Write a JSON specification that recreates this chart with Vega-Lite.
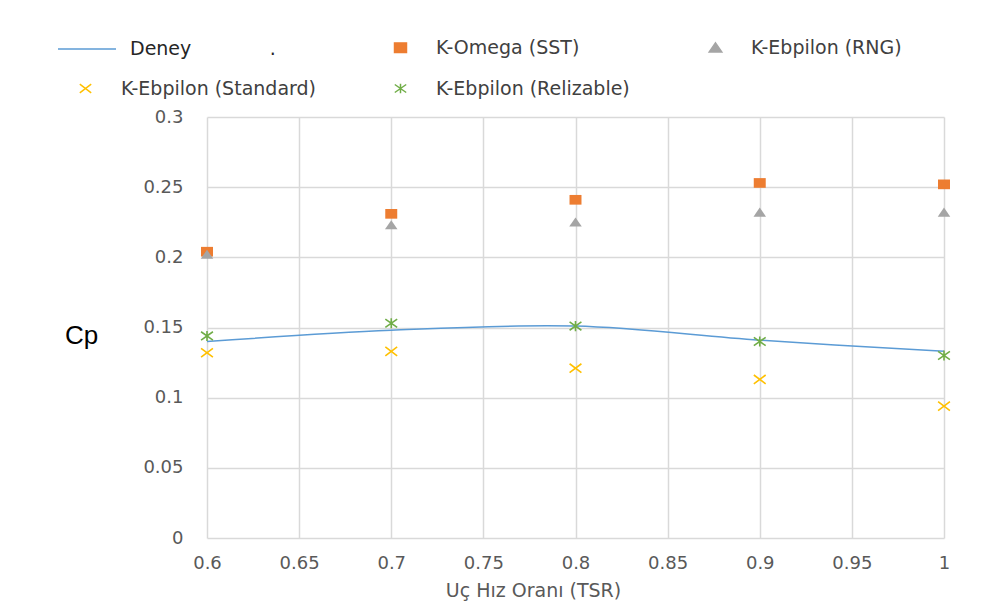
{
  "$schema": "https://vega.github.io/schema/vega-lite/v6.json",
  "width": 737,
  "height": 421,
  "autosize": {"type": "none"},
  "padding": {"left": 207, "top": 117, "right": 42, "bottom": 72},
  "background": "white",
  "config": {"view": {"stroke": null}, "font": "DejaVu Sans"},
  "data": {
    "values": [
      {"tsr": 0.6, "cp": 0.140, "series": "Deney"},
      {"tsr": 0.7, "cp": 0.148, "series": "Deney"},
      {"tsr": 0.8, "cp": 0.151, "series": "Deney"},
      {"tsr": 0.9, "cp": 0.141, "series": "Deney"},
      {"tsr": 1.0, "cp": 0.133, "series": "Deney"},
      {"tsr": 0.6, "cp": 0.204, "series": "K-Omega (SST)"},
      {"tsr": 0.7, "cp": 0.231, "series": "K-Omega (SST)"},
      {"tsr": 0.8, "cp": 0.241, "series": "K-Omega (SST)"},
      {"tsr": 0.9, "cp": 0.253, "series": "K-Omega (SST)"},
      {"tsr": 1.0, "cp": 0.252, "series": "K-Omega (SST)"},
      {"tsr": 0.6, "cp": 0.202, "series": "K-Ebpilon (RNG)"},
      {"tsr": 0.7, "cp": 0.223, "series": "K-Ebpilon (RNG)"},
      {"tsr": 0.8, "cp": 0.225, "series": "K-Ebpilon (RNG)"},
      {"tsr": 0.9, "cp": 0.232, "series": "K-Ebpilon (RNG)"},
      {"tsr": 1.0, "cp": 0.232, "series": "K-Ebpilon (RNG)"},
      {"tsr": 0.6, "cp": 0.132, "series": "K-Ebpilon (Standard)"},
      {"tsr": 0.7, "cp": 0.133, "series": "K-Ebpilon (Standard)"},
      {"tsr": 0.8, "cp": 0.121, "series": "K-Ebpilon (Standard)"},
      {"tsr": 0.9, "cp": 0.113, "series": "K-Ebpilon (Standard)"},
      {"tsr": 1.0, "cp": 0.094, "series": "K-Ebpilon (Standard)"},
      {"tsr": 0.6, "cp": 0.144, "series": "K-Ebpilon (Relizable)"},
      {"tsr": 0.7, "cp": 0.153, "series": "K-Ebpilon (Relizable)"},
      {"tsr": 0.8, "cp": 0.151, "series": "K-Ebpilon (Relizable)"},
      {"tsr": 0.9, "cp": 0.140, "series": "K-Ebpilon (Relizable)"},
      {"tsr": 1.0, "cp": 0.130, "series": "K-Ebpilon (Relizable)"}
    ]
  },
  "encoding": {
    "x": {
      "field": "tsr", "type": "quantitative",
      "scale": {"domain": [0.6, 1.0], "nice": false, "zero": false},
      "axis": {
        "values": [0.6, 0.65, 0.7, 0.75, 0.8, 0.85, 0.9, 0.95, 1.0],
        "format": "~g", "labelFlush": false,
        "labelFontSize": 18, "labelColor": "#595959", "labelPadding": 16,
        "ticks": false, "domain": false,
        "grid": true, "gridColor": "#D9D9D9", "gridWidth": 1.5,
        "title": "Uç Hız Oranı (TSR)",
        "titleFontSize": 19, "titleColor": "#595959", "titleFontWeight": "normal",
        "titleX": 326, "titleY": 52, "titleBaseline": "middle", "titleAlign": "center"
      }
    },
    "y": {
      "field": "cp", "type": "quantitative",
      "scale": {"domain": [0, 0.3], "nice": false},
      "axis": {
        "values": [0, 0.05, 0.1, 0.15, 0.2, 0.25, 0.3],
        "format": "~g", "labelFlush": false,
        "labelFontSize": 18, "labelColor": "#595959", "labelPadding": 24,
        "ticks": false, "domain": false,
        "grid": true, "gridColor": "#D9D9D9", "gridWidth": 1.5,
        "title": "Cp",
        "titleFont": "Liberation Sans",
        "titleFontSize": 26, "titleColor": "#000000", "titleFontWeight": "normal",
        "titleAngle": 0, "titleX": -126, "titleY": 218,
        "titleAlign": "center", "titleBaseline": "middle"
      }
    }
  },
  "layer": [
    {
      "transform": [{"filter": "datum.series === 'Deney'"}],
      "mark": {"type": "line", "interpolate": "catmull-rom", "strokeWidth": 1.5},
      "encoding": {
        "stroke": {
          "field": "series", "type": "nominal",
          "scale": {"domain": ["Deney"], "range": ["#5B9BD5"]},
          "legend": {
            "orient": "none", "legendX": -150, "legendY": -98,
            "title": null, "padding": 0, "labelLimit": 600,
            "symbolType": "stroke", "symbolSize": 3364, "symbolStrokeWidth": 1.5,
            "labelFontSize": 19, "labelColor": "#262626", "labelOffset": 13,
            "labelExpr": "'Deney\u00a0\u00a0\u00a0\u00a0\u00a0\u00a0\u00a0\u00a0\u00a0\u00a0\u00a0\u00a0\u00a0.'"
          }
        }
      }
    },
    {
      "transform": [{"filter": "datum.series === 'K-Omega (SST)' || datum.series === 'K-Ebpilon (RNG)'"}],
      "mark": {"type": "point", "filled": true, "opacity": 1, "size": 130},
      "encoding": {
        "color": {
          "field": "series", "type": "nominal",
          "scale": {
            "domain": [" ", "K-Omega (SST)", "K-Ebpilon (RNG)", "K-Ebpilon (Standard)", "K-Ebpilon (Relizable)"],
            "range": ["rgba(0,0,0,0)", "#ED7D31", "#A5A5A5", "#FFC000", "#70AD47"]
          },
          "legend": {
            "orient": "none", "direction": "horizontal", "legendX": -131, "legendY": -79,
            "title": null, "padding": 0, "columns": 3, "gridAlign": "all",
            "columnPadding": 75, "rowPadding": 21, "labelLimit": 600,
            "symbolSize": 130, "symbolStrokeWidth": 1.5,
            "labelFontSize": 19, "labelColor": "#404040", "labelOffset": 26,
            "encode": {
              "symbols": {
                "update": {
                  "fill": {"scale": "color", "field": "value"},
                  "stroke": {"scale": "color", "field": "value"},
                  "strokeWidth": {"value": 1.5},
                  "opacity": {"value": 1}
                }
              }
            }
          }
        },
        "shape": {
          "field": "series", "type": "nominal",
          "scale": {
            "domain": [" ", "K-Omega (SST)", "K-Ebpilon (RNG)", "K-Ebpilon (Standard)", "K-Ebpilon (Relizable)"],
            "range": ["circle", "M-1.05,-0.85L1.05,-0.85L1.05,0.85L-1.05,0.85Z", "M0,-0.85L1.1,0.75L-1.1,0.75Z", "M-1,-0.75L1,0.75M1,-0.75L-1,0.75", "M-1,-0.7L1,0.7M1,-0.7L-1,0.7M0,-0.85L0,0.85"]
          }
        }
      }
    },
    {
      "transform": [{"filter": "datum.series === 'K-Ebpilon (Standard)' || datum.series === 'K-Ebpilon (Relizable)'"}],
      "mark": {"type": "point", "filled": false, "opacity": 1, "size": 140, "strokeWidth": 1.6},
      "encoding": {
        "color": {"field": "series", "type": "nominal"},
        "shape": {"field": "series", "type": "nominal"}
      }
    }
  ]
}
